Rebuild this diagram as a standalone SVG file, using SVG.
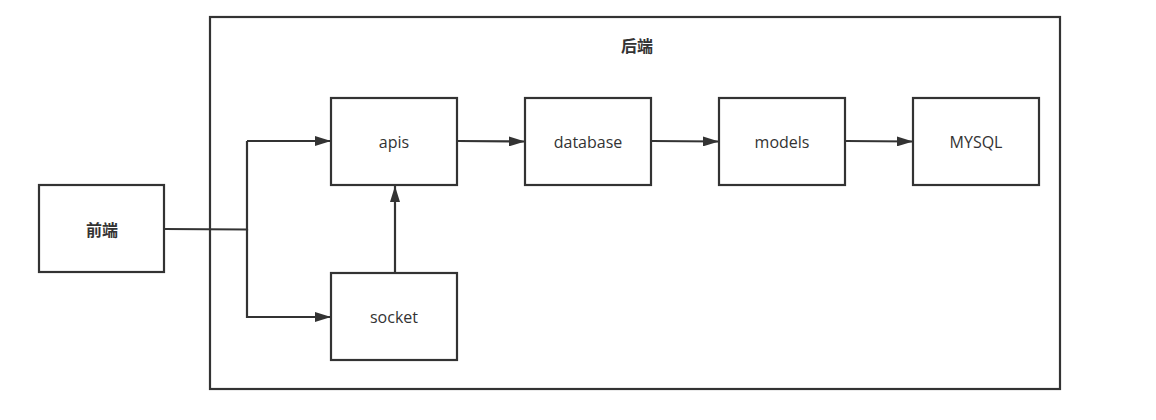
<svg xmlns="http://www.w3.org/2000/svg" width="1156" height="420" viewBox="0 0 1156 420">
<style>
.box{fill:#fff;stroke:#333;stroke-width:2.2}
.lbl{font-family:"Open Sans","Noto Sans CJK SC",sans-serif;font-size:16px;fill:#333;text-anchor:middle;dominant-baseline:central}
.cjk{font-family:"Noto Sans CJK SC",sans-serif;font-size:16px;font-weight:bold;fill:#333;text-anchor:middle;dominant-baseline:central}
.edge{fill:none;stroke:#333;stroke-width:2.2}
</style>
<defs>
<marker id="arr" viewBox="0 0 16 10" refX="16" refY="5" markerWidth="16" markerHeight="10" markerUnits="userSpaceOnUse" orient="auto">
<path d="M0,0 L16,5 L0,10 Z" fill="#333"/>
</marker>
</defs>
<rect width="1156" height="420" fill="#fff"/>
<g id="backend">
<rect class="box" x="210" y="17" width="850" height="372"/>
<text class="cjk" x="637" y="45">后端</text>
</g>
<g id="connectors">
<polyline class="edge" points="164,229 247,229.5 247,141"/>
<path class="edge" d="M247,141 L331,141" marker-end="url(#arr)"/>
<path class="edge" d="M247,229 L247,317 L331,317" marker-end="url(#arr)"/>
<path class="edge" d="M395,273 L395,186" marker-end="url(#arr)"/>
<path class="edge" d="M458,141 L525,141.5" marker-end="url(#arr)"/>
<path class="edge" d="M652,141 L719,141.5" marker-end="url(#arr)"/>
<path class="edge" d="M846,141 L913,141.5" marker-end="url(#arr)"/>
</g>
<g id="frontend">
<rect class="box" x="39" y="185" width="125" height="87"/>
<text class="cjk" x="102" y="229">前端</text>
</g>
<g id="apis">
<rect class="box" x="331" y="98" width="126" height="87"/>
<text class="lbl" x="394" y="142">apis</text>
</g>
<g id="socket">
<rect class="box" x="331" y="273" width="126" height="87"/>
<text class="lbl" x="394" y="317">socket</text>
</g>
<g id="database">
<rect class="box" x="525" y="98" width="126" height="87"/>
<text class="lbl" x="588" y="142">database</text>
</g>
<g id="models">
<rect class="box" x="719" y="98" width="126" height="87"/>
<text class="lbl" x="782" y="142">models</text>
</g>
<g id="mysql">
<rect class="box" x="913" y="98" width="126" height="87"/>
<text class="lbl" x="976" y="142">MYSQL</text>
</g>
</svg>
